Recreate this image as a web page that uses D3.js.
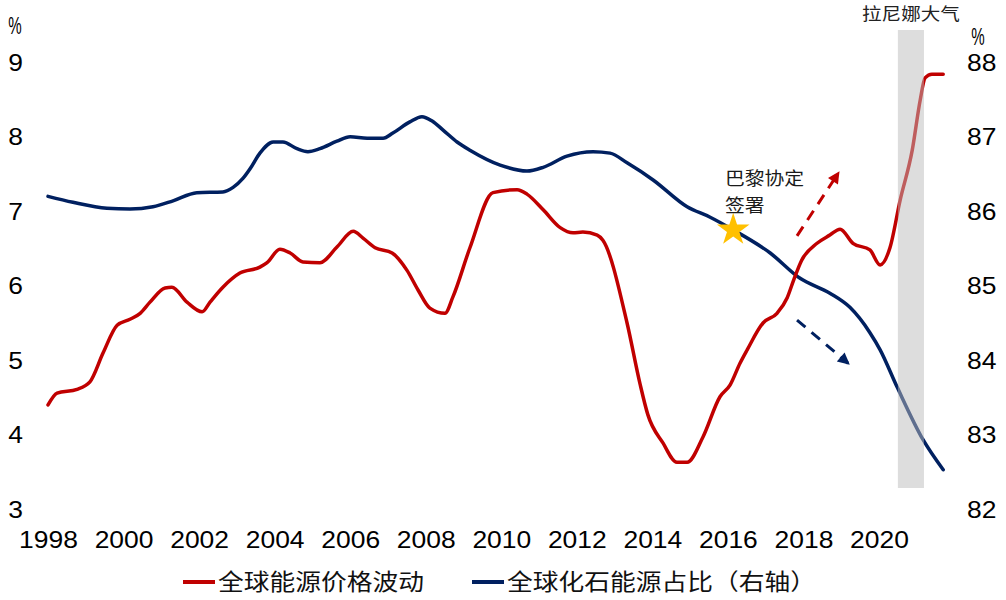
<!DOCTYPE html>
<html>
<head>
<meta charset="utf-8">
<script src="https://cdn.jsdelivr.net/npm/d3@7"></script>
<style>
  body { margin: 0; background: #fff; }
  svg { font-family: "Liberation Sans", Arial, "Noto Sans CJK SC", sans-serif; }
</style>
</head>
<body>
<svg id="chart" width="1006" height="600"></svg>
<script>
// ---- data ----
const priceYears = [1998.00,1998.24,1998.77,1999.11,1999.46,1999.83,2000.17,2000.44,2000.70,2001.10,
  2001.28,2001.68,2002.08,2002.29,2002.63,2003.08,2003.61,2003.80,2004.14,2004.41,2004.75,2005.20,
  2005.65,2006.08,2006.34,2006.66,2007.11,2007.50,2007.80,2008.11,2008.51,2008.72,2009.17,2009.78,
  2010.42,2010.68,2011.11,2011.56,2011.90,2012.16,2012.54,2012.69,2013.33,2013.67,2013.88,2014.28,
  2014.65,2014.92,2015.34,2015.79,2016.06,2016.32,2016.51,2016.93,2017.30,2017.57,2017.75,2017.95,
  2018.36,2018.70,2018.97,2019.31,2019.76,2020.03,2020.29,2020.56,2020.88,2021.09,2021.22,2021.40,2021.70];
const priceVals = [4.41,4.57,4.62,4.72,5.11,5.48,5.56,5.64,5.79,5.98,
  5.99,5.79,5.66,5.79,5.99,6.18,6.26,6.32,6.50,6.45,6.33,6.32,
  6.53,6.74,6.65,6.52,6.45,6.22,5.95,5.71,5.64,5.86,6.52,7.26,
  7.30,7.24,7.03,6.79,6.72,6.73,6.69,6.62,5.51,4.70,4.28,3.90,
  3.64,3.64,3.98,4.52,4.68,4.97,5.15,5.51,5.64,5.85,6.10,6.35,
  6.58,6.69,6.77,6.58,6.49,6.29,6.52,7.16,7.83,8.50,8.80,8.85,8.85];

const shareYears = [1998.00,1998.66,1999.56,2000.17,2000.78,2001.31,2001.94,2002.63,2002.90,2003.16,
  2003.35,2003.61,2003.96,2004.22,2004.59,2004.88,2005.20,2005.65,2006.00,2006.45,2006.87,2007.13,
  2007.58,2007.90,2008.17,2008.46,2008.83,2009.17,2009.97,2010.68,2011.11,2011.74,2012.43,2012.88,
  2013.33,2014.02,2014.92,2015.53,2016.14,2017.12,2017.91,2018.70,2019.23,2019.76,2020.03,2020.48,
  2021.17,2021.70];
const shareVals = [86.21,86.13,86.05,86.04,86.07,86.15,86.26,86.27,86.33,86.45,
  86.58,86.79,86.94,86.94,86.85,86.81,86.85,86.95,87.01,86.99,86.99,87.06,
  87.21,87.28,87.22,87.10,86.94,86.83,86.63,86.55,86.60,86.75,86.81,86.79,
  86.66,86.43,86.07,85.93,85.76,85.45,85.11,84.91,84.72,84.38,84.15,83.65,
  82.94,82.54];

const xTicks = d3.range(1998, 2021, 2);
const leftTicks = [3, 4, 5, 6, 7, 8, 9];
const rightTicks = [82, 83, 84, 85, 86, 87, 88];

const laNinaBand = [2020.5, 2021.19];
const parisPoint = [2016.14, 85.76];               // year, right-axis value
const priceArrow = [[2017.83, 6.68], [2018.92, 7.52]]; // left axis
const shareArrow = [[2017.83, 84.55], [2019.18, 83.97]]; // right axis

const legendNames = ["全球能源价格波动", "全球化石能源占比（右轴）"];
const RED = "#c00000", BLUE = "#002060";

// ---- scales ----
const svg = d3.select("#chart");
const x = d3.scaleLinear().domain([1998, 2020]).range([48, 879]);
const yL = d3.scaleLinear().domain([3, 9]).range([510, 63]);
const yR = d3.scaleLinear().domain([82, 88]).range([510, 63]);
const SX = "scale(1.15,1)";

// ---- axes ----
const fmt = d3.format("d");
const gx = svg.append("g").attr("transform", "translate(0,528)")
  .call(d3.axisBottom(x).tickValues(xTicks).tickFormat(fmt).tickSize(0).tickPadding(4));
const gl = svg.append("g").attr("transform", "translate(15.5,0)")
  .call(d3.axisLeft(yL).tickValues(leftTicks).tickFormat(fmt).tickSize(0).tickPadding(0));
const gr = svg.append("g").attr("transform", "translate(967,0)")
  .call(d3.axisRight(yR).tickValues(rightTicks).tickFormat(fmt).tickSize(0).tickPadding(0));
[gx, gl, gr].forEach(g => {
  g.select(".domain").remove();
  g.selectAll("text").attr("font-size", 23).attr("fill", "#000")
    .attr("font-family", "Liberation Sans, Arial, sans-serif")
    .attr("transform", SX);
});
gl.selectAll("text").attr("x", 0).attr("text-anchor", "middle");
gr.selectAll("text").attr("x", 0).attr("text-anchor", "start");

// units
svg.append("text").attr("transform", "translate(15,34) scale(0.72,1.1)")
  .attr("text-anchor", "middle").attr("font-size", 21).text("%");
svg.append("text").attr("transform", "translate(978,45) scale(0.72,1.1)")
  .attr("text-anchor", "middle").attr("font-size", 21).text("%");

// ---- lines ----
const priceData = priceYears.map((yr, i) => [yr, priceVals[i]]);
const shareData = shareYears.map((yr, i) => [yr, shareVals[i]]);

svg.append("path").datum(shareData)
  .attr("fill", "none").attr("stroke", BLUE).attr("stroke-width", 3.5)
  .attr("stroke-linejoin", "round").attr("stroke-linecap", "round")
  .attr("d", d3.line().x(d => x(d[0])).y(d => yR(d[1])).curve(d3.curveMonotoneX));

svg.append("path").datum(priceData)
  .attr("fill", "none").attr("stroke", RED).attr("stroke-width", 3.5)
  .attr("stroke-linejoin", "round").attr("stroke-linecap", "round")
  .attr("d", d3.line().x(d => x(d[0])).y(d => yL(d[1])).curve(d3.curveMonotoneX));

// La Nina band, drawn over the lines
svg.append("rect")
  .attr("x", x(laNinaBand[0])).attr("width", x(laNinaBand[1]) - x(laNinaBand[0]))
  .attr("y", 30).attr("height", 458)
  .attr("fill", "#bbbbbb").attr("opacity", 0.5);
svg.append("text").attr("transform", `translate(${(x(laNinaBand[0]) + x(laNinaBand[1])) / 2},20) ${SX}`)
  .attr("text-anchor", "middle").attr("font-size", 17).attr("fill", "#222")
  .attr("font-family", "Noto Sans CJK SC, sans-serif").text("拉尼娜大气");

// ---- arrows ----
const defs = svg.append("defs");
[["arrRed", RED], ["arrBlue", BLUE]].forEach(([id, c]) => {
  defs.append("marker").attr("id", id).attr("viewBox", "0 0 10 10")
    .attr("refX", 8).attr("refY", 5).attr("markerWidth", 14).attr("markerHeight", 12)
    .attr("markerUnits", "userSpaceOnUse").attr("orient", "auto")
    .append("path").attr("d", "M0,0 L10,5 L0,10 Z").attr("fill", c);
});
svg.append("line")
  .attr("x1", x(priceArrow[0][0])).attr("y1", yL(priceArrow[0][1]))
  .attr("x2", x(priceArrow[1][0])).attr("y2", yL(priceArrow[1][1]))
  .attr("stroke", RED).attr("stroke-width", 3).attr("stroke-dasharray", "11,8")
  .attr("marker-end", "url(#arrRed)");
svg.append("line")
  .attr("x1", x(shareArrow[0][0])).attr("y1", yR(shareArrow[0][1]))
  .attr("x2", x(shareArrow[1][0])).attr("y2", yR(shareArrow[1][1]))
  .attr("stroke", BLUE).attr("stroke-width", 3).attr("stroke-dasharray", "11,8")
  .attr("marker-end", "url(#arrBlue)");

// ---- Paris agreement star ----
svg.append("path")
  .attr("transform", `translate(${x(parisPoint[0])},${yR(parisPoint[1])})`)
  .attr("d", d3.symbol(d3.symbolStar).size(330)())
  .attr("fill", "#ffc000");
const pt = svg.append("g").attr("font-size", 18).attr("fill", "#1a1a1a")
  .attr("font-family", "Noto Sans CJK SC, sans-serif");
pt.append("text").attr("transform", `translate(725,185) scale(1.1,1)`).text("巴黎协定");
pt.append("text").attr("transform", `translate(725,212) scale(1.1,1)`).text("签署");

// ---- legend ----
const legend = svg.append("g").attr("font-family", "Noto Sans CJK SC, sans-serif");
[[183, RED, legendNames[0]], [472, BLUE, legendNames[1]]].forEach(([lx, c, name]) => {
  legend.append("line").attr("x1", lx).attr("x2", lx + 32).attr("y1", 582).attr("y2", 582)
    .attr("stroke", c).attr("stroke-width", 4);
  legend.append("text").attr("transform", `translate(${lx + 35},590) scale(1.12,1)`)
    .attr("font-size", 23).attr("fill", "#111").text(name);
});
</script>
</body>
</html>
